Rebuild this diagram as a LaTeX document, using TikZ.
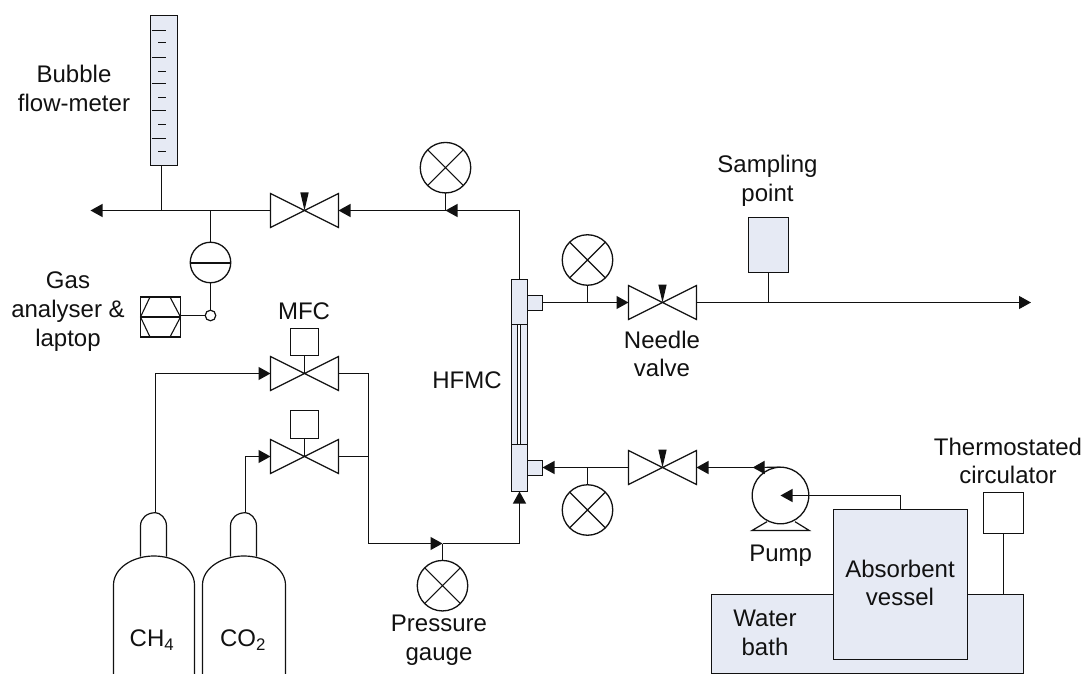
\documentclass[tikz,border=0pt]{standalone}
\usepackage{fontspec}
\setmainfont{Liberation Sans}
\usetikzlibrary{arrows.meta}
\definecolor{paleblue}{HTML}{E6EAF4}
\definecolor{ink}{HTML}{111111}
\tikzset{
  pipe/.style={draw=ink,line width=1.2pt},
  flow/.style={pipe,-{Triangle[length=12pt,width=13pt]}},
  shell/.style={draw=ink,line width=1.2pt,rectangle,inner sep=0pt,outer sep=0pt},
  tinted/.style={shell,fill=paleblue},
  valvebox/.style={rectangle,inner sep=0pt,outer sep=0pt,minimum width=68pt,minimum height=34pt},
  gauge/.style={circle,draw=ink,line width=1.3pt,inner sep=0pt,outer sep=0pt,minimum size=50.5pt,
    path picture={\draw[ink,line width=1.1pt]
      (path picture bounding box.north west)--(path picture bounding box.south east)
      (path picture bounding box.north east)--(path picture bounding box.south west);}},
  lbl/.style={align=center,inner sep=0pt,text=ink,font=\fontsize{24}{28.7}\selectfont},
}
\newcommand{\valvetie}[1]{\draw[ink,line width=1.2pt,line join=miter] (#1.north west)--(#1.south east)--(#1.north east)--(#1.south west)--cycle;}
\newcommand{\valveneedle}[1]{\fill[ink] (#1.center)--([xshift=-4.2pt,yshift=1pt]#1.north)--([xshift=4.2pt,yshift=1pt]#1.north)--cycle;}
\newcommand{\grad}[3]{\draw[ink,line width=1.2pt] (#1,#3)--(#2,#3);}
\begin{document}
\begin{tikzpicture}[x=1pt,y=-1pt]
\useasboundingbox (0,0) rectangle (1085,674);
% junctions and free ends
\coordinate (outL) at (90.5,210.5);
\coordinate (jBub) at (161.5,210.5);
\coordinate (jAna) at (210.5,210.5);
\coordinate (jTop) at (445.5,210.5);
\coordinate (jUp) at (587.5,302.5);
\coordinate (jSamp) at (768.5,302.5);
\coordinate (outR) at (1031,302.5);
\coordinate (jDn) at (587.5,467.5);
\coordinate (jPump) at (752.7,467.5);
\coordinate (jMix) at (368.5,456.5);
\coordinate (jGauge) at (442.5,543.5);
\coordinate (corner) at (368.5,373.5);
% bubble flow-meter
\node[tinted,minimum width=27pt,minimum height=150pt] (bubble) at (164,90.5) {};
\grad{151.7}{166}{30.5}\grad{158}{166}{42.5}\grad{151.7}{166}{57.5}\grad{158}{166}{71.5}
\grad{151.7}{166}{83.5}\grad{158}{166}{97.5}\grad{151.7}{166}{110.5}\grad{158}{166}{124.5}
\grad{151.7}{166}{138.5}\grad{158}{166}{151.5}
\draw[pipe] (bubble.south -| jBub)--(jBub);
% valves
\node[valvebox] (v1) at (304.5,210.5) {}; \valvetie{v1}\valveneedle{v1}
\node[valvebox] (v2) at (662.5,302.5) {}; \valvetie{v2}\valveneedle{v2}
\node[valvebox] (v3) at (662.5,467.5) {}; \valvetie{v3}\valveneedle{v3}
\node[valvebox] (mfcA) at (304.5,373.5) {}; \valvetie{mfcA}
\node[valvebox] (mfcB) at (304.5,456.5) {}; \valvetie{mfcB}
\node[shell,minimum width=28pt,minimum height=27pt] (boxA) at (304.5,342) {};
\node[shell,minimum width=28pt,minimum height=28pt] (boxB) at (304.5,424.5) {};
\draw[pipe] (boxA.south)--(mfcA.center);
\draw[pipe] (boxB.south)--(mfcB.center);
% gauges
\node[gauge] (g1) at (445.5,167.7) {};
\node[gauge] (g2) at (587.5,260) {};
\node[gauge] (g3) at (587.5,510) {};
\node[gauge] (g4) at (442.5,585.7) {};
% gas analyser
\node[circle,draw=ink,line width=1.3pt,inner sep=0pt,outer sep=0pt,minimum size=40.5pt,
  path picture={\draw[ink,line width=2pt] (path picture bounding box.west)--(path picture bounding box.east);}] (splitter) at (210.5,262.5) {};
\node[circle,draw=ink,line width=1.2pt,fill=white,inner sep=0pt,outer sep=0pt,minimum size=10.6pt] (tap) at (210.5,315.5) {};
\node[shell,minimum width=40pt,minimum height=40pt] (analyser) at (160.5,317) {};
\draw[ink,line width=1.1pt] (analyser.west)--(150,297)--(170,297)--(analyser.east)--(170,337)--(150,337)--cycle;
\draw[ink,line width=2pt] (analyser.west)--(analyser.east);
\draw[pipe] (jAna)--(splitter.north);
\draw[pipe] (splitter.south)--(tap.north);
\draw[pipe] (tap.west)--(tap.west -| analyser.east);
% HFMC
\node[tinted,minimum width=16pt,minimum height=120pt] (tube) at (519.5,384.5) {};
\fill[white] (517.5,324.5) rectangle (520.5,444.5);
\draw[ink,line width=1.2pt] (517.5,324.5)--(517.5,444.5) (520.5,324.5)--(520.5,444.5);
\node[tinted,minimum width=16pt,minimum height=45pt] (headT) at (519.5,302) {};
\node[tinted,minimum width=16pt,minimum height=47pt] (headB) at (519.5,468) {};
\node[tinted,minimum width=15pt,minimum height=15pt] (portT) at (535,303) {};
\node[tinted,minimum width=15pt,minimum height=15pt] (portB) at (535,468) {};
% top line
\draw[flow] (headT.north) |- (jTop);
\draw[pipe] (g1.south)--(jTop);
\draw[flow] (jTop)--(v1.east);
\draw[flow] (v1.west)--(outL);
% sample line
\draw[flow] (portT.east |- v2.west)--(v2.west);
\draw[pipe] (g2.south)--(jUp);
\draw[flow] (v2.east)--(outR);
\node[tinted,minimum width=40pt,minimum height=55pt] (sampler) at (768.5,245) {};
\draw[pipe] (sampler.south)--(jSamp);
% return line
\draw[flow] (v3.west)--(v3.west -| portB.east);
\draw[pipe] (g3.north)--(jDn);
\draw[flow] (jPump)--(v3.east);
% cylinders
\coordinate (ch4top) at (155.5,512.7);
\coordinate (co2top) at (245.5,512.7);
\draw[ink,line width=1.2pt] (140.5,556.5)--(140.5,526) .. controls (140.5,518) and (147,512.7) .. (ch4top) .. controls (160,512.7) and (166.5,518) .. (166.5,526)--(166.5,556.5);
\draw[ink,line width=1.2pt] (113.5,674)--(113.5,585) .. controls (113.5,568) and (133,556) .. (153.8,556) .. controls (175,556) and (194.5,568) .. (194.5,585)--(194.5,674);
\draw[ink,line width=1.2pt] (230.5,556.5)--(230.5,526) .. controls (230.5,518) and (237,512.7) .. (co2top) .. controls (250,512.7) and (256.5,518) .. (256.5,526)--(256.5,556.5);
\draw[ink,line width=1.2pt] (202.5,674)--(202.5,585) .. controls (202.5,568) and (222,556) .. (243.8,556) .. controls (265,556) and (285.5,568) .. (285.5,585)--(285.5,674);
\draw[flow] (ch4top) |- (mfcA.west);
\draw[flow] (co2top) |- (mfcB.west);
% mixing line
\draw[pipe] (mfcA.east)--(corner)--(jMix);
\draw[pipe] (mfcB.east)--(jMix);
\draw[flow] (jMix) |- (jGauge);
\draw[pipe] (g4.north)--(jGauge);
\draw[flow] (jGauge) -| (headB.south);
% bath, vessel, circulator
\node[tinted,minimum width=312pt,minimum height=79pt] (bath) at (867.5,634) {};
\node[tinted,minimum width=134pt,minimum height=150pt] (vessel) at (900.5,584.5) {};
\node[shell,minimum width=40pt,minimum height=41pt] (circ) at (1003.5,513) {};
\draw[pipe] (circ.south)--(circ.south |- bath.north);
% pump
\draw[ink,line width=1.2pt] (767,521.7)--(752,530.5)--(809.3,530.5)--(795,521.7);
\node[circle,draw=ink,line width=1.3pt,fill=white,inner sep=0pt,outer sep=0pt,minimum size=56.6pt] (pump) at (780.5,495.5) {};
\draw[flow] (pump.north)--(jPump);
\draw[flow] (vessel.north) |- (pump.center);
% labels
\node[lbl] (tBubble) at (74,88.5) {Bubble\\flow-meter};
\node[lbl] (tGas) at (68,311.5) {Gas\\analyser \&\\laptop};
\node[lbl] (tMFC) at (304,311) {MFC};
\node[lbl] (tHFMC) at (467,380.7) {HFMC};
\node[lbl] (tNeedle) at (662,354) {Needle\\valve};
\node[lbl] (tSample) at (767.5,180.5) {Sampling\\point};
\node[lbl] (tPress) at (439,640) {Pressure\\gauge};
\node[lbl] (tCH) at (152,640) {CH\textsubscript{4}};
\node[lbl] (tCO) at (243,640) {CO\textsubscript{2}};
\node[lbl] (tPump) at (780.7,556) {Pump};
\node[lbl] (tAbs) at (900,583) {Absorbent\\vessel};
\node[lbl] (tWater) at (765,633) {Water\\bath};
\node[lbl] (tTherm) at (1008,461) {Thermostated\\circulator};
\end{tikzpicture}
\end{document}
